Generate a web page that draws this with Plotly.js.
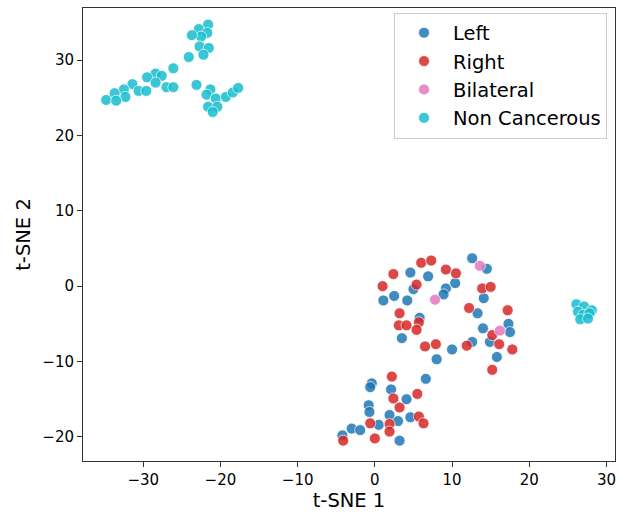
<!DOCTYPE html>
<html>
<head>
<meta charset="utf-8">
<script src="https://cdn.plot.ly/plotly-3.0.1.min.js"></script>
<style>html,body{margin:0;padding:0;background:#fff;}#chart{width:621px;height:516px;}</style>
</head>
<body>
<div id="chart"></div>
<script>
const leftX = [12.6,14.5,4.6,6.9,5.0,1.1,2.5,4.2,9.2,10.4,8.9,14.1,13.3,5.8,3.5,12.6,10.0,8.0,14.0,17.3,17.5,14.9,15.8,
  6.6,-0.4,-0.6,2.1,4.1,-0.8,-0.7,1.9,3.0,4.6,0.5,-3.0,-1.9,-4.2,3.2];
const leftY = [3.7,2.3,1.8,1.3,-0.4,-1.9,-1.3,-1.9,-0.3,0.4,-1.1,-1.6,-3.6,-4.2,-6.9,-7.4,-8.4,-9.7,-5.6,-5.0,-6.1,-7.4,-9.4,
  -12.3,-12.9,-13.4,-13.7,-15.0,-15.8,-16.7,-17.1,-17.9,-17.4,-18.4,-18.9,-19.1,-19.8,-20.5];
const rightX = [6.0,7.3,2.4,1.0,9.2,10.5,5.4,13.9,15.0,12.2,17.2,3.2,3.1,4.1,5.7,5.4,15.2,6.5,7.9,11.9,16.1,17.8,15.2,
  2.2,5.5,2.4,3.2,5.7,6.3,1.9,1.9,-0.6,0.0,-4.1];
const rightY = [3.1,3.4,1.6,0.0,2.2,1.7,0.2,-0.3,-0.1,-2.9,-3.2,-3.6,-5.2,-5.2,-4.8,-5.8,-6.5,-8.0,-7.7,-7.9,-7.7,-8.4,-11.1,
  -12.0,-14.3,-14.9,-16.1,-17.3,-18.2,-18.3,-19.3,-18.2,-20.2,-20.5];
const bilatX = [13.6,7.8,16.2];
const bilatY = [2.7,-1.8,-5.9];
const nonX = [-21.6,-22.8,-21.7,-22.5,-23.7,-22.7,-21.5,-22.2,-24.1,-26.1,-28.4,-27.6,-29.5,-28.4,-27.0,-26.1,-31.4,-30.6,-29.6,
  -32.5,-33.7,-32.3,-34.8,-33.5,-23.1,-21.3,-21.8,-20.6,-19.3,-18.4,-17.7,-21.6,-20.4,-21.0,
  26.1,27.1,28.1,26.3,27.0,27.8,26.6,27.6];
const nonY = [34.7,34.1,33.6,33.1,33.3,31.8,31.6,30.7,30.4,28.9,28.2,27.9,27.7,27.0,26.4,26.4,26.8,25.9,25.9,
  26.1,25.6,25.1,24.7,24.6,26.7,26.1,25.4,24.9,25.1,25.7,26.3,23.8,23.8,23.1,
  -2.4,-2.7,-3.2,-3.4,-3.8,-3.6,-4.4,-4.3];

const names = ['Left','Right','Bilateral','Non Cancerous'];
const colors = ['#1f77b4','#d62728','#e377c2','#17becf'];
const xs = [leftX,rightX,bilatX,nonX];
const ys = [leftY,rightY,bilatY,nonY];

const traces = names.map((n,i)=>({
  type:'scatter', mode:'markers', name:n, x:xs[i], y:ys[i],
  marker:{size:11, color:colors[i], opacity:0.85, line:{color:'#ffffff', width:0.8}}
}));

const font = {family:'DejaVu Sans, sans-serif', color:'#000'};
const layout = {
  width:621, height:516,
  margin:{l:83, r:6, t:8, b:55},
  paper_bgcolor:'#fff', plot_bgcolor:'#fff',
  font:Object.assign({size:15}, font),
  showlegend:true,
  xaxis:{range:[-37.8,31.1], tickvals:[-30,-20,-10,0,10,20,30], ticktext:['\u221230','\u221220','\u221210','0','10','20','30'],
    showgrid:false, zeroline:false, showline:true, linecolor:'#333', linewidth:1, mirror:true,
    ticks:'outside', ticklen:5, tickcolor:'#333', tickfont:{size:15},
    title:{text:'t-SNE 1', font:{size:19.5}, standoff:4}},
  yaxis:{range:[-23.2,36.9], tickvals:[-20,-10,0,10,20,30], ticktext:['\u221220','\u221210','0','10','20','30'],
    showgrid:false, zeroline:false, showline:true, linecolor:'#333', linewidth:1, mirror:true,
    ticks:'outside', ticklen:5, tickcolor:'#333', tickfont:{size:15},
    title:{text:'t-SNE 2', font:{size:19.5}, standoff:6}},
  legend:{x:0.985, y:0.99, xanchor:'right', yanchor:'top', bgcolor:'rgba(255,255,255,0.8)',
    bordercolor:'#cccccc', borderwidth:1, font:{size:19.5}, itemwidth:48, tracegroupgap:0}
};
Plotly.newPlot('chart', traces, layout, {displayModeBar:false, staticPlot:true});
</script>
</body>
</html>
